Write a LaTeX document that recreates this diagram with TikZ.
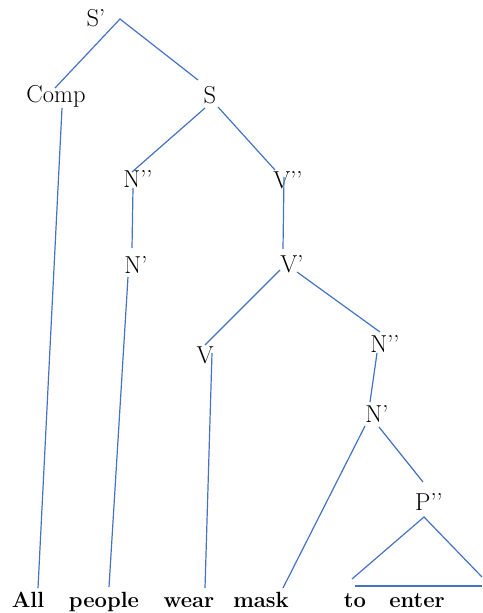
\documentclass[tikz,border=0pt]{standalone}
\usepackage{fontspec}
\definecolor{wordblue}{HTML}{4472C4}
\begin{document}
\begin{tikzpicture}[x=1pt,y=-1pt,
  lab/.style={inner sep=0pt,anchor=base,font=\fontsize{24.5}{28}\selectfont},
  word/.style={inner sep=0pt,anchor=base,font=\fontsize{22}{28}\selectfont\bfseries},
  edge/.style={draw=wordblue,line width=1.2pt}]
\useasboundingbox (0,0) rectangle (482,613);
% labels
\node[lab] (Sp) at (96,26) {S’};
\node[lab] (Comp) at (56,102) {Comp};
\node[lab] (S) at (210,103) {S};
\node[lab] (NppL) at (138,187) {N’’};
\node[lab] (NpL) at (136,273) {N’};
\node[lab] (Vpp) at (288,188) {V’’};
\node[lab] (Vp) at (292,272) {V’};
\node[lab] (V) at (205,363) {V};
\node[lab] (NppR) at (385,352) {N’’};
\node[lab] (NpR) at (377,422) {N’};
\node[lab] (Ppp) at (429,510) {P’’};
% words
\node[word] (All) at (28,607) {All};
\node[word] (people) at (104,607) {people};
\node[word] (wear) at (189,607) {wear};
\node[word] (mask) at (261,607) {mask};
\node[word] (to) at (355,607) {to};
\node[word] (enter) at (417,607) {enter};
% connector end points
\coordinate (a1) at (120,19);
\coordinate (a2) at (55,88);
\coordinate (a3) at (198,80);
\coordinate (b1) at (62,108);
\coordinate (b2) at (38,588);
\coordinate (c1) at (205,108);
\coordinate (c2) at (132,172);
\coordinate (c3) at (218,107);
\coordinate (c4) at (275,170);
\coordinate (d1) at (133,188);
\coordinate (d2) at (132,248);
\coordinate (d3) at (128,277);
\coordinate (d4) at (109,587);
\coordinate (e1) at (284,177);
\coordinate (e2) at (283,249);
\coordinate (e3) at (280,270);
\coordinate (e4) at (205,345);
\coordinate (e5) at (297,272);
\coordinate (e6) at (380,332);
\coordinate (f1) at (212,353);
\coordinate (f2) at (205,588);
\coordinate (g1) at (377,353);
\coordinate (g2) at (370,402);
\coordinate (g3) at (365,426);
\coordinate (g4) at (283,588);
\coordinate (g5) at (379,427);
\coordinate (g6) at (423,482);
\coordinate (t0) at (424,517);
\coordinate (t1) at (352,579);
\coordinate (t2) at (482,577);
\coordinate (t3) at (355,586);
\coordinate (t4) at (482,586);
% connectors
\draw[edge] (a2) -- (a1) -- (a3);
\draw[edge] (b1) -- (b2);
\draw[edge] (c1) -- (c2);
\draw[edge] (c3) -- (c4);
\draw[edge] (d1) -- (d2);
\draw[edge] (d3) -- (d4);
\draw[edge] (e1) -- (e2);
\draw[edge] (e3) -- (e4);
\draw[edge] (e5) -- (e6);
\draw[edge] (f1) -- (f2);
\draw[edge] (g1) -- (g2);
\draw[edge] (g3) -- (g4);
\draw[edge] (g5) -- (g6);
\draw[edge] (t1) -- (t0) -- (t2);
\draw[edge] (t3) -- (t4);
\end{tikzpicture}
\end{document}
